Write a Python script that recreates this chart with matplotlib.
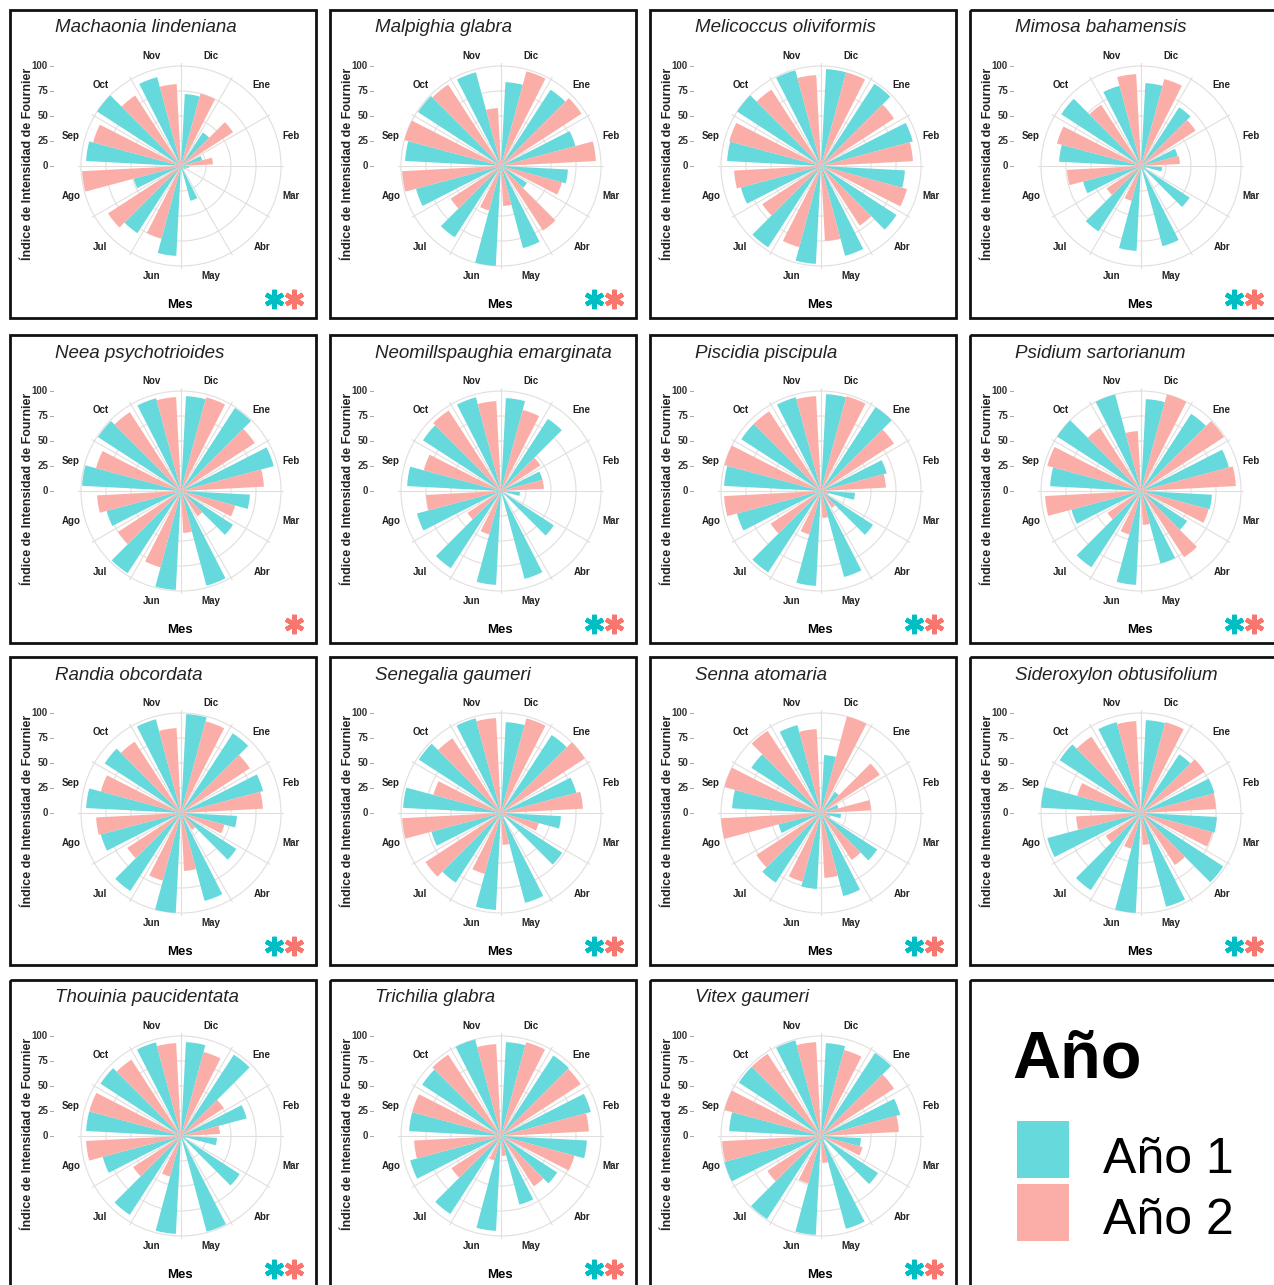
import numpy as np
import matplotlib
matplotlib.use("Agg")
import matplotlib.pyplot as plt
from matplotlib.patches import Rectangle

plt.rcParams['font.family'] = ['Liberation Sans', 'DejaVu Sans']

# meses en el orden en que se recorren en el gráfico polar (sentido horario desde arriba)
meses = ["Dic", "Ene", "Feb", "Mar", "Abr", "May", "Jun", "Jul", "Ago", "Sep", "Oct", "Nov"]

especies = [
    "Machaonia lindeniana", "Malpighia glabra", "Melicoccus oliviformis", "Mimosa bahamensis",
    "Neea psychotrioides", "Neomillspaughia emarginata", "Piscidia piscipula", "Psidium sartorianum",
    "Randia obcordata", "Senegalia gaumeri", "Senna atomaria", "Sideroxylon obtusifolium",
    "Thouinia paucidentata", "Trichilia glabra", "Vitex gaumeri",
]

# Índice de Fournier (%) por mes, Año 1
anio1 = [
    [72, 40, 22, 8, 5, 36, 90, 80, 49, 95, 100, 92],
    [84, 91, 77, 67, 31, 85, 100, 85, 88, 96, 99, 97],
    [97, 98, 95, 84, 90, 93, 98, 97, 83, 94, 100, 99],
    [83, 70, 38, 21, 58, 83, 85, 78, 60, 82, 95, 83],
    [95, 99, 96, 69, 62, 98, 99, 98, 77, 99, 99, 96],
    [93, 86, 43, 19, 63, 91, 94, 92, 87, 94, 93, 97],
    [97, 100, 68, 34, 62, 89, 95, 97, 87, 97, 95, 97],
    [92, 92, 91, 71, 55, 75, 94, 91, 72, 91, 100, 100],
    [99, 95, 85, 56, 66, 91, 100, 93, 83, 95, 91, 97],
    [91, 93, 78, 60, 73, 93, 97, 83, 72, 98, 98, 98],
    [58, 25, 18, 20, 67, 86, 76, 83, 44, 89, 83, 91],
    [93, 70, 76, 76, 98, 97, 100, 92, 97, 100, 97, 94],
    [94, 97, 68, 36, 70, 99, 98, 94, 81, 95, 96, 97],
    [94, 96, 93, 86, 67, 71, 95, 93, 94, 92, 94, 100],
    [93, 99, 82, 40, 68, 96, 99, 99, 100, 92, 98, 99],
]

# Índice de Fournier (%) por mes, Año 2
anio2 = [
    [75, 62, 32, 6, 3, 4, 75, 87, 99, 91, 84, 82],
    [98, 96, 95, 63, 77, 40, 46, 60, 99, 100, 97, 58],
    [97, 87, 92, 89, 71, 75, 84, 70, 87, 95, 91, 91],
    [90, 65, 39, 5, 5, 3, 36, 41, 74, 87, 73, 92],
    [97, 88, 83, 56, 30, 42, 79, 75, 84, 88, 94, 94],
    [84, 47, 43, 3, 3, 3, 45, 40, 75, 80, 96, 90],
    [98, 87, 65, 8, 20, 27, 45, 60, 97, 100, 95, 95],
    [100, 99, 95, 70, 79, 34, 45, 40, 96, 97, 75, 60],
    [95, 82, 82, 45, 20, 58, 70, 64, 85, 83, 85, 85],
    [98, 100, 82, 39, 5, 32, 63, 90, 99, 70, 89, 95],
    [100, 70, 50, 10, 56, 65, 71, 77, 100, 100, 98, 84],
    [94, 76, 75, 74, 62, 32, 37, 42, 65, 66, 91, 92],
    [87, 51, 39, 5, 3, 3, 42, 57, 95, 95, 91, 93],
    [97, 95, 88, 76, 60, 20, 25, 59, 87, 92, 97, 92],
    [89, 87, 78, 43, 5, 27, 49, 64, 99, 100, 98, 94],
]

# asteriscos de significancia (Año 1, Año 2)
signif = [
    (1, 1), (1, 1), (0, 0), (1, 1),
    (0, 1), (1, 1), (1, 1), (1, 1),
    (1, 1), (1, 1), (1, 1), (1, 1),
    (1, 1), (1, 1), (1, 1),
]

c_a1 = "#66D9DC"
c_a2 = "#FBADA7"
c_a1_fuerte = "#00BFC4"
c_a2_fuerte = "#F8766D"

W, H = 1274, 1285
fig = plt.figure(figsize=(W / 100, H / 100), dpi=100)

# ejes de fondo en pixeles para marcos, textos y asteriscos
bg = fig.add_axes([0, 0, 1, 1])
bg.set_xlim(0, W)
bg.set_ylim(H, 0)
bg.axis("off")

col_x = [10, 330, 650, 970]
fila_y = [10, 335, 657, 980]
RMAX = 103
ANCHO = 12.0  # grados por barra (dodge 0.8 de cada mes)

for k, nombre in enumerate(especies):
    bx = col_x[k % 4]
    by = fila_y[k // 4]
    cx, cy = bx + 171, by + 156

    bg.add_patch(Rectangle((bx, by), 306, 308, fill=False, lw=2, ec="#111111"))
    bg.text(bx + 45, by + 18, nombre, style="italic", fontsize=13.5, ha="left", va="center", color="#222222")
    bg.text(bx + 18, cy - 2, "Índice de Intensidad de Fournier", rotation=90, ha="center", va="center",
            fontsize=9, fontweight="bold", color="#222222")
    bg.text(bx + 170, by + 295, "Mes", ha="center", va="center", fontsize=9.5, fontweight="bold")
    for v in [0, 25, 50, 75, 100]:
        bg.text(bx + 38, cy - v, str(v), ha="right", va="center", fontsize=7, fontweight="bold", color="#333333")
        bg.plot([bx + 40, bx + 43], [cy - v, cy - v], color="#999999", lw=0.6)

    s1, s2 = signif[k]
    if s1:
        bg.plot(bx + 264, by + 289, marker=(6, 2, 0), ms=14, mew=3.2, color=c_a1_fuerte)
    if s2:
        bg.plot(bx + 284, by + 289, marker=(6, 2, 0), ms=14, mew=3.2, color=c_a2_fuerte)

    ax = fig.add_axes([(cx - RMAX) / W, 1 - (cy + RMAX) / H, 2 * RMAX / W, 2 * RMAX / H], polar=True)
    ax.set_theta_zero_location("N")
    ax.set_theta_direction(-1)
    ax.set_ylim(0, RMAX)
    ax.set_xticks(np.deg2rad(np.arange(0, 360, 30)))
    ax.set_xticklabels([])
    ax.set_yticks([25, 50, 75, 100])
    ax.set_yticklabels([])
    ax.grid(color="#E2DEDE", lw=0.8)
    ax.spines["polar"].set_visible(False)
    ax.patch.set_alpha(0)
    ax.set_axisbelow(True)

    inicio = np.arange(12) * 30.0
    ax.bar(np.deg2rad(inicio + 15 - ANCHO / 2), anio1[k], width=np.deg2rad(ANCHO), color=c_a1, edgecolor="none")
    ax.bar(np.deg2rad(inicio + 15 + ANCHO / 2), anio2[k], width=np.deg2rad(ANCHO), color=c_a2, edgecolor="none")

    for i, m in enumerate(meses):
        ax.text(np.deg2rad(inicio[i] + 15), 114, m, ha="center", va="center", fontsize=7,
                fontweight="bold", color="#222222", clip_on=False)

# caja de la leyenda
bg.add_patch(Rectangle((970, 980), 306, 308, fill=False, lw=2, ec="#111111"))
bg.text(1012, 1077, "Año", fontsize=48, fontweight="bold", ha="left", va="baseline")
bg.add_patch(Rectangle((1017, 1121), 52, 57, color=c_a1, lw=0))
bg.add_patch(Rectangle((1017, 1184), 52, 57, color=c_a2, lw=0))
bg.text(1103, 1173, "Año 1", fontsize=36, ha="left", va="baseline")
bg.text(1103, 1234, "Año 2", fontsize=36, ha="left", va="baseline")

fig.savefig("out.png", dpi=100)
